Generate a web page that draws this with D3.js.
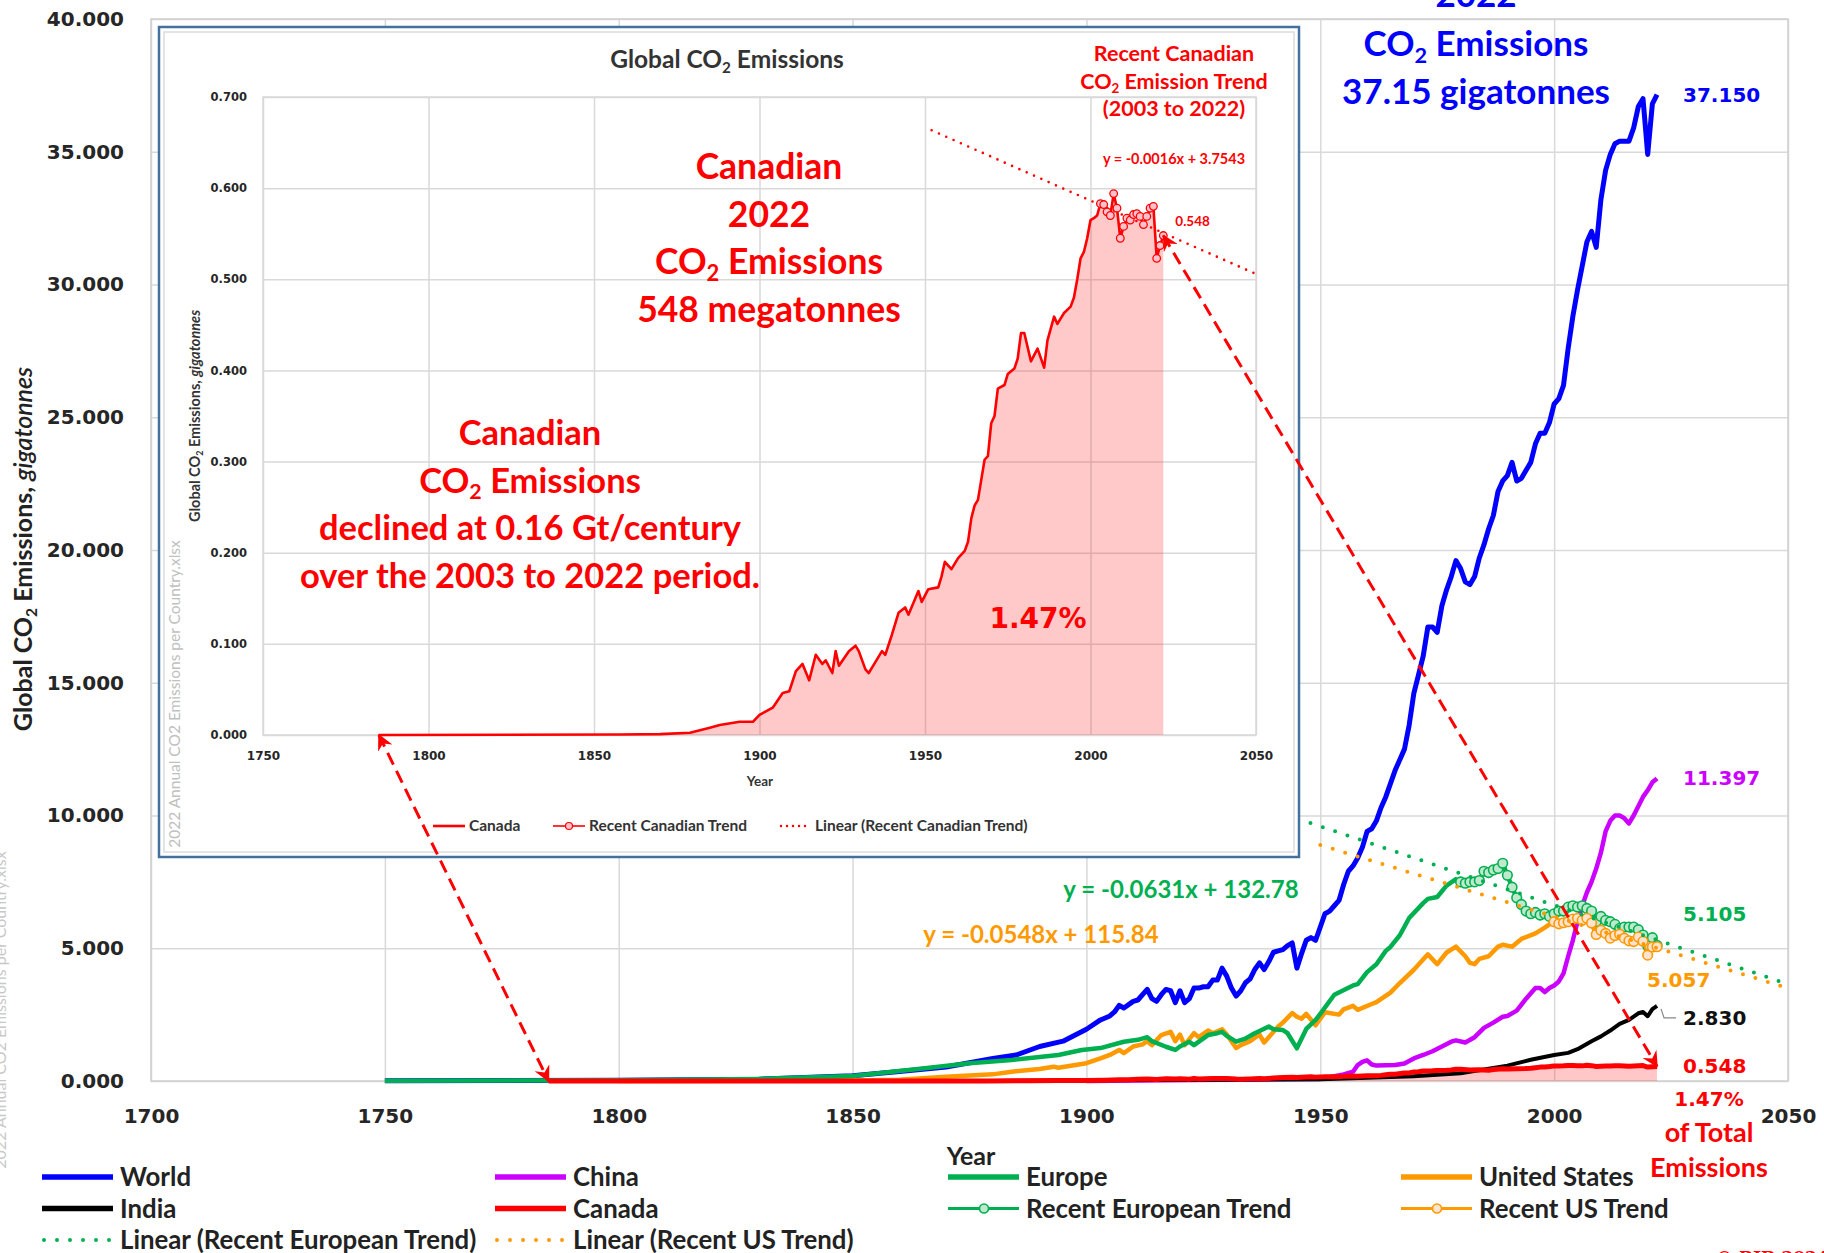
<!DOCTYPE html>
<html>
<head>
<meta charset="utf-8">
<title>Global CO2 Emissions</title>
<script src="https://d3js.org/d3.v7.min.js"></script>
<style>
  body { margin: 0; background: #fff; }
  .grid line { stroke: #d9d9d9; stroke-width: 1.5; }
  .grid .domain { display: none; }
  .grid text { font-family: "DejaVu Sans", sans-serif; font-weight: bold; fill: #262626; }
</style>
</head>
<body>
<script>
// ---------- data (gigatonnes of CO2 per year) ----------
var worldPts = [[1750,0.01],[1800,0.03],[1830,0.07],[1850,0.2],[1860,0.36],[1870,0.53],[1880,0.85],[1885,0.98],[1890,1.3],[1895,1.5],[1900,1.95],[1903,2.3],[1905,2.45],[1906,2.6],[1907,2.85],[1908,2.75],[1910,3.0],[1911,3.05],[1912,3.25],[1913,3.45],[1914,3.1],[1915,3.0],[1916,3.25],[1917,3.45],[1918,3.4],[1919,2.95],[1920,3.4],[1921,2.95],[1922,3.1],[1923,3.5],[1924,3.5],[1925,3.55],[1926,3.55],[1927,3.8],[1928,3.8],[1929,4.25],[1930,3.95],[1931,3.5],[1932,3.2],[1933,3.4],[1934,3.7],[1935,3.85],[1936,4.2],[1937,4.45],[1938,4.2],[1939,4.5],[1940,4.85],[1941,4.9],[1942,4.95],[1943,5.1],[1944,5.2],[1945,4.25],[1946,4.8],[1947,5.3],[1948,5.4],[1949,5.3],[1950,5.8],[1951,6.3],[1952,6.4],[1953,6.6],[1954,6.8],[1955,7.4],[1956,7.9],[1957,8.1],[1958,8.4],[1959,8.8],[1960,9.4],[1961,9.5],[1962,9.8],[1963,10.3],[1964,10.7],[1965,11.2],[1966,11.7],[1967,12.1],[1968,12.5],[1969,13.4],[1970,14.6],[1971,15.3],[1972,16.0],[1973,17.1],[1974,17.1],[1975,16.9],[1976,17.9],[1977,18.5],[1978,19.0],[1979,19.6],[1980,19.3],[1981,18.8],[1982,18.7],[1983,19.0],[1984,19.7],[1985,20.2],[1986,20.8],[1987,21.3],[1988,22.2],[1989,22.6],[1990,22.8],[1991,23.3],[1992,22.6],[1993,22.7],[1994,23.0],[1995,23.3],[1996,24.0],[1997,24.4],[1998,24.4],[1999,24.8],[2000,25.5],[2001,25.7],[2002,26.2],[2003,27.6],[2004,28.8],[2005,29.8],[2006,30.7],[2007,31.6],[2008,32.0],[2009,31.4],[2010,33.2],[2011,34.3],[2012,34.9],[2013,35.3],[2014,35.4],[2015,35.4],[2016,35.4],[2017,35.9],[2018,36.7],[2019,37.0],[2020,34.9],[2021,36.8],[2022,37.15]];

var chinaPts = [[1900,0.0],[1950,0.08],[1955,0.25],[1957,0.35],[1958,0.6],[1959,0.72],[1960,0.78],[1961,0.62],[1962,0.58],[1966,0.6],[1968,0.66],[1970,0.85],[1972,0.98],[1974,1.12],[1976,1.3],[1978,1.48],[1979,1.53],[1981,1.45],[1983,1.65],[1985,2.0],[1987,2.2],[1989,2.42],[1990,2.45],[1992,2.65],[1994,3.1],[1996,3.5],[1997,3.5],[1998,3.35],[1999,3.5],[2000,3.6],[2001,3.75],[2002,4.05],[2003,4.7],[2004,5.3],[2005,6.0],[2006,6.6],[2007,7.1],[2008,7.5],[2009,8.0],[2010,8.6],[2011,9.4],[2012,9.8],[2013,10.0],[2014,10.0],[2015,9.9],[2016,9.7],[2017,10.0],[2018,10.35],[2019,10.7],[2020,10.95],[2021,11.25],[2022,11.397]];

var indiaPts = [[1880,0.0],[1900,0.03],[1930,0.05],[1950,0.07],[1960,0.12],[1970,0.18],[1980,0.29],[1990,0.58],[1995,0.8],[2000,0.98],[2003,1.06],[2005,1.2],[2008,1.5],[2010,1.68],[2012,1.9],[2014,2.15],[2016,2.3],[2018,2.55],[2019,2.6],[2020,2.44],[2021,2.71],[2022,2.83]];

var europeEarly = [[1750,0.01],[1800,0.03],[1830,0.08],[1850,0.19],[1865,0.47],[1875,0.67],[1884,0.79],[1890,0.9],[1894,0.98],[1899,1.17],[1903,1.24],[1908,1.48],[1911,1.55],[1913,1.65],[1914,1.5],[1917,1.29],[1919,1.17],[1920,1.3],[1922,1.48],[1923,1.35],[1926,1.73],[1928,1.8],[1929,1.85],[1930,1.7],[1932,1.48],[1934,1.6],[1936,1.8],[1939,2.05],[1940,1.95],[1942,1.92],[1943,1.8],[1945,1.23],[1947,1.96],[1949,2.3],[1950,2.53],[1953,3.25],[1957,3.6],[1958,3.65],[1960,4.1],[1962,4.4],[1964,4.9],[1965,5.05],[1967,5.49],[1969,6.14],[1972,6.7],[1973,6.86],[1975,6.93],[1977,7.36],[1979,7.6]];
var europeRecent = [[1980,7.5],[1981,7.45],[1982,7.5],[1983,7.5],[1984,7.55],[1985,7.9],[1986,7.85],[1987,7.95],[1988,8.0],[1989,8.2],[1990,7.75],[1991,7.3],[1992,6.9],[1993,6.65],[1994,6.4],[1995,6.3],[1996,6.35],[1997,6.25],[1998,6.3],[1999,6.2],[2000,6.3],[2001,6.4],[2002,6.4],[2003,6.55],[2004,6.6],[2005,6.55],[2006,6.6],[2007,6.5],[2008,6.4],[2009,6.0],[2010,6.2],[2011,6.05],[2012,6.0],[2013,5.9],[2014,5.75],[2015,5.8],[2016,5.8],[2017,5.8],[2018,5.7],[2019,5.5],[2020,5.1],[2021,5.4],[2022,5.105]];

var usEarly = [[1800,0.0],[1850,0.02],[1860,0.05],[1870,0.16],[1880,0.25],[1884,0.35],[1890,0.45],[1893,0.54],[1894,0.5],[1900,0.67],[1903,0.85],[1905,0.98],[1907,1.17],[1908,1.05],[1910,1.3],[1912,1.38],[1913,1.5],[1914,1.35],[1916,1.73],[1918,1.85],[1919,1.5],[1920,1.75],[1921,1.35],[1923,1.8],[1924,1.65],[1926,1.9],[1927,1.8],[1929,1.95],[1930,1.75],[1932,1.24],[1933,1.35],[1935,1.5],[1937,1.75],[1938,1.45],[1940,1.85],[1941,2.05],[1942,2.2],[1944,2.56],[1945,2.42],[1946,2.35],[1947,2.53],[1949,2.1],[1951,2.59],[1954,2.5],[1955,2.7],[1957,2.83],[1958,2.68],[1961,2.9],[1962,2.97],[1965,3.33],[1967,3.69],[1970,4.19],[1973,4.77],[1975,4.4],[1977,4.84],[1979,5.06],[1981,4.7],[1982,4.45],[1983,4.4],[1984,4.6],[1986,4.7],[1988,5.06],[1989,5.13],[1991,5.06],[1993,5.35],[1996,5.56],[1998,5.78],[1999,5.9]];
var usRecent = [[2000,6.0],[2001,5.92],[2002,5.96],[2003,6.0],[2004,6.1],[2005,6.13],[2006,6.05],[2007,6.13],[2008,5.95],[2009,5.52],[2010,5.68],[2011,5.56],[2012,5.38],[2013,5.48],[2014,5.53],[2015,5.38],[2016,5.28],[2017,5.25],[2018,5.42],[2019,5.26],[2020,4.74],[2021,5.05],[2022,5.057]];

var canadaEarly = [[1785,0.0],[1858,0.0005],[1870,0.001],[1879,0.0025],[1885,0.008],[1888,0.011],[1894,0.0145],[1898,0.0145],[1900,0.022],[1904,0.03],[1907,0.046],[1909,0.048],[1911,0.07],[1913,0.078],[1915,0.06],[1917,0.088],[1919,0.078],[1920,0.082],[1922,0.068],[1923,0.092],[1924,0.076],[1927,0.092],[1929,0.098],[1930,0.092],[1932,0.072],[1933,0.068],[1935,0.08],[1937,0.092],[1938,0.088],[1940,0.11],[1942,0.134],[1944,0.14],[1945,0.132],[1948,0.158],[1949,0.146],[1951,0.16],[1954,0.162],[1955,0.174],[1956,0.19],[1958,0.182],[1960,0.194],[1962,0.202],[1963,0.212],[1964,0.238],[1965,0.252],[1966,0.258],[1968,0.302],[1969,0.306],[1970,0.342],[1971,0.35],[1972,0.38],[1974,0.384],[1975,0.396],[1977,0.402],[1978,0.413],[1979,0.441],[1980,0.441],[1982,0.41],[1984,0.424],[1986,0.403],[1987,0.433],[1989,0.459],[1990,0.451],[1992,0.463],[1994,0.47],[1995,0.48],[1996,0.5],[1997,0.523],[1998,0.53],[1999,0.545],[2000,0.565],[2001,0.567],[2002,0.57]];
var canadaRecent = [[2003,0.583],[2004,0.582],[2005,0.574],[2006,0.57],[2007,0.594],[2008,0.578],[2009,0.545],[2010,0.558],[2011,0.567],[2012,0.565],[2013,0.571],[2014,0.572],[2015,0.569],[2016,0.56],[2017,0.569],[2018,0.578],[2019,0.58],[2020,0.523],[2021,0.537],[2022,0.548]];

// years over which the linear trend lines are drawn
var euroTrendSpan = [1940, 2050];
var usTrendSpan = [1950, 2050];
var canTrendSpan = [1952, 2050];

var xTicks = [1700, 1750, 1800, 1850, 1900, 1950, 2000, 2050];
var yTicks = [0, 5, 10, 15, 20, 25, 30, 35, 40];
var insetXTicks = [1750, 1800, 1850, 1900, 1950, 2000, 2050];
var insetYTicks = [0, 0.1, 0.2, 0.3, 0.4, 0.5, 0.6, 0.7];

var legendNames = ["World", "China", "Europe", "United States", "India", "Canada",
  "Recent European Trend", "Recent US Trend", "Linear (Recent European Trend)", "Linear (Recent US Trend)"];
var legendKinds = ["line", "line", "line", "line", "line", "line", "marker", "marker", "dots", "dots"];

// ---------- colours ----------
var BLUE = "#0000ff", PURPLE = "#cc00ff", GREEN = "#00b050", ORANGE = "#ff9900", RED = "#ff0000", BLACK = "#000000";
var legendColors = [BLUE, PURPLE, GREEN, ORANGE, BLACK, RED, GREEN, ORANGE, GREEN, ORANGE];
var COND = "Lato, 'Liberation Sans', sans-serif";
var WIDE = "'DejaVu Sans', Verdana, sans-serif";

var europePts = europeEarly.concat(europeRecent);
var usPts = usEarly.concat(usRecent);
var canadaPts = canadaEarly.concat(canadaRecent);

function linFit(pts) {
  var mx = d3.mean(pts, function(d) { return d[0]; });
  var my = d3.mean(pts, function(d) { return d[1]; });
  var sxy = d3.sum(pts, function(d) { return (d[0] - mx) * (d[1] - my); });
  var sxx = d3.sum(pts, function(d) { return (d[0] - mx) * (d[0] - mx); });
  var m = sxy / sxx;
  return function(yr) { return my + m * (yr - mx); };
}
function trendPts(pts, span) {
  var f = linFit(pts);
  return span.map(function(yr) { return [yr, f(yr)]; });
}

// text with "_2" marking a subscript 2
function label(parent, xx, yy, str, size, color, opts) {
  opts = opts || {};
  var t = parent.append("text").attr("x", xx).attr("y", yy)
    .attr("font-size", size).attr("fill", color)
    .attr("text-anchor", opts.anchor || "middle")
    .attr("font-family", opts.family || COND)
    .attr("font-weight", opts.weight || 700);
  if (opts.transform) t.attr("transform", opts.transform);
  str.split("_2").forEach(function(p, i) {
    if (i > 0) {
      t.append("tspan").attr("font-size", size * 0.62).attr("dy", size * 0.2).text("2");
      t.append("tspan").attr("dy", -size * 0.2).text(p);
    } else if (p) {
      t.append("tspan").text(p);
    }
  });
  return t;
}
function block(parent, xx, y0, lines, gap, size, color) {
  lines.forEach(function(s, i) { label(parent, xx, y0 + i * gap, s, size, color); });
}

var W = 1824, H = 1253;
var svg = d3.select("body").append("svg").attr("width", W).attr("height", H)
  .style("background", "#fff").style("display", "block");

var defs = svg.append("defs");
defs.append("marker").attr("id", "arrow").attr("viewBox", "0 0 12 12")
  .attr("refX", 11).attr("refY", 6).attr("markerWidth", 16).attr("markerHeight", 16)
  .attr("markerUnits", "userSpaceOnUse").attr("orient", "auto-start-reverse")
  .append("path").attr("d", "M0,0 L12,6 L0,12 L4,6 Z").attr("fill", RED);

// ---------- main chart ----------
var x = d3.scaleLinear().domain([1700, 2050]).range([151, 1788]);
var y = d3.scaleLinear().domain([0, 40]).range([1081, 19]);
var line = d3.line().x(function(d) { return x(d[0]); }).y(function(d) { return y(d[1]); });

svg.append("g").attr("class", "grid").attr("transform", "translate(151,0)")
  .call(d3.axisLeft(y).tickValues(yTicks).tickSize(-(1788 - 151)).tickPadding(27).tickFormat(d3.format(".3f")))
  .selectAll("text").style("font-size", "20px");
svg.append("g").attr("class", "grid").attr("transform", "translate(0,1081)")
  .call(d3.axisBottom(x).tickValues(xTicks).tickSize(-(1081 - 19)).tickPadding(28).tickFormat(d3.format("d")))
  .selectAll("text").style("font-size", "20px");
svg.append("rect").attr("x", 151).attr("y", 19).attr("width", 1788 - 151).attr("height", 1081 - 19)
  .attr("fill", "none").attr("stroke", "#d0d0d0").attr("stroke-width", 1.5);

svg.append("path").datum(canadaPts)
  .attr("d", d3.area().x(function(d) { return x(d[0]); }).y0(y(0)).y1(function(d) { return y(d[1]); }))
  .attr("fill", RED).attr("fill-opacity", 0.22);

function drawLine(pts, color, w) {
  svg.append("path").datum(pts).attr("d", line).attr("fill", "none")
    .attr("stroke", color).attr("stroke-width", w).attr("stroke-linejoin", "round");
}
drawLine(worldPts, BLUE, 5);
drawLine(usPts, ORANGE, 4.5);
drawLine(europePts, GREEN, 4.5);
drawLine(chinaPts, PURPLE, 4.5);
drawLine(indiaPts, BLACK, 4);
drawLine(canadaPts, RED, 5);

function drawDots(pts, color) {
  svg.append("path").datum(pts).attr("d", line).attr("fill", "none")
    .attr("stroke", color).attr("stroke-width", 4).attr("stroke-linecap", "round")
    .attr("stroke-dasharray", "0 13");
}
function drawMarkers(pts, color, fill) {
  svg.append("path").datum(pts).attr("d", line).attr("fill", "none")
    .attr("stroke", color).attr("stroke-width", 2);
  svg.append("g").selectAll("circle").data(pts).join("circle")
    .attr("cx", function(d) { return x(d[0]); }).attr("cy", function(d) { return y(d[1]); })
    .attr("r", 4.8).attr("fill", fill).attr("stroke", color).attr("stroke-width", 1.6);
}
drawMarkers(europeRecent, GREEN, "#bfe8cc");
drawMarkers(usRecent, ORANGE, "#fde3d0");
drawDots(trendPts(europeRecent, euroTrendSpan), GREEN);
drawDots(trendPts(usRecent, usTrendSpan), ORANGE);

// end-of-series value labels
var last = function(a) { return a[a.length - 1]; };
var x22 = x(2022);
label(svg, x22 + 26, y(last(worldPts)[1]) + 7, "37.150", 20, BLUE, {anchor: "start", family: WIDE});
label(svg, x22 + 26, y(last(chinaPts)[1]) + 7, "11.397", 20, PURPLE, {anchor: "start", family: WIDE});
label(svg, x22 + 26, y(last(europeRecent)[1]) - 24, "5.105", 20, GREEN, {anchor: "start", family: WIDE});
label(svg, x22 - 10, y(last(usRecent)[1]) + 40, "5.057", 20, ORANGE, {anchor: "start", family: WIDE});
label(svg, x22 + 26, y(last(indiaPts)[1]) + 19, "2.830", 20, "#111", {anchor: "start", family: WIDE});
label(svg, x22 + 26, y(last(canadaPts)[1]) + 7, "0.548", 20, RED, {anchor: "start", family: WIDE});
svg.append("path")
  .attr("d", "M" + (x22 + 4) + "," + (y(2.83) + 3) + " L" + (x22 + 7) + "," + (y(2.83) + 12) + " L" + (x22 + 19) + "," + (y(2.83) + 12))
  .attr("fill", "none").attr("stroke", "#888").attr("stroke-width", 1.2);
label(svg, 1709, 1106, "1.47%", 20, RED, {family: WIDE});
label(svg, 1709, 1142, "of Total", 27, RED);
label(svg, 1709, 1177, "Emissions", 27, RED);

label(svg, 1181, 898, "y = -0.0631x + 132.78", 24, GREEN);
label(svg, 1041, 943, "y = -0.0548x + 115.84", 24, ORANGE);

block(svg, 1476, 7, ["2022", "CO_2 Emissions", "37.15 gigatonnes"], 48.5, 35, BLUE);

label(svg, 971, 1165, "Year", 25, "#222");
var yt = label(svg, 0, 0, "Global CO_2 Emissions, ", 25, "#222", {transform: "translate(32,549) rotate(-90)"});
yt.append("tspan").attr("font-style", "italic").attr("font-weight", 600).text("gigatonnes");
label(svg, 0, 0, "2022 Annual CO2 Emissions per Country.xlsx", 16, "#c8c8c8",
  {weight: 400, transform: "translate(6,1010) rotate(-90)"});

// legend
legendNames.forEach(function(name, i) {
  var col = i % 4, row = Math.floor(i / 4);
  var lx = 42 + col * 453, ly = 1177 + row * 31.5;
  var c = legendColors[i], k = legendKinds[i];
  var g = svg.append("g");
  if (k === "dots") {
    g.append("line").attr("x1", lx + 2).attr("x2", lx + 71).attr("y1", ly).attr("y2", ly)
      .attr("stroke", c).attr("stroke-width", 4).attr("stroke-linecap", "round").attr("stroke-dasharray", "0 13");
  } else {
    g.append("line").attr("x1", lx).attr("x2", lx + 71).attr("y1", ly).attr("y2", ly)
      .attr("stroke", c).attr("stroke-width", k === "marker" ? 3 : 5.5);
    if (k === "marker") {
      g.append("circle").attr("cx", lx + 36).attr("cy", ly).attr("r", 4.5)
        .attr("fill", c === GREEN ? "#bfe8cc" : "#fde3d0").attr("stroke", c).attr("stroke-width", 1.6);
    }
  }
  label(g, lx + 78, ly + 9, name, 25.8, "#222", {anchor: "start"});
});
label(svg, 1716, 1263, "\u00a9 RJB 2024", 17, RED, {anchor: "start", family: "'DejaVu Serif', serif"});

// ---------- inset: Canada ----------
var inset = svg.append("g");
inset.append("rect").attr("x", 159).attr("y", 27).attr("width", 1140).attr("height", 830)
  .attr("fill", "#fff").attr("stroke", "#41719c").attr("stroke-width", 2.5);
inset.append("rect").attr("x", 164).attr("y", 32).attr("width", 1130).attr("height", 820)
  .attr("fill", "none").attr("stroke", "#dcdcdc").attr("stroke-width", 1.5);

var xi = d3.scaleLinear().domain([1750, 2050]).range([263, 1256]);
var yi = d3.scaleLinear().domain([0, 0.7]).range([735, 97]);
var lineI = d3.line().x(function(d) { return xi(d[0]); }).y(function(d) { return yi(d[1]); });

inset.append("g").attr("class", "grid").attr("transform", "translate(263,0)")
  .call(d3.axisLeft(yi).tickValues(insetYTicks).tickSize(-(1256 - 263)).tickPadding(16).tickFormat(d3.format(".3f")))
  .selectAll("text").style("font-size", "11.5px");
inset.append("g").attr("class", "grid").attr("transform", "translate(0,735)")
  .call(d3.axisBottom(xi).tickValues(insetXTicks).tickSize(-(735 - 97)).tickPadding(16).tickFormat(d3.format("d")))
  .selectAll("text").style("font-size", "12px");
inset.append("rect").attr("x", 263).attr("y", 97).attr("width", 1256 - 263).attr("height", 735 - 97)
  .attr("fill", "none").attr("stroke", "#d9d9d9").attr("stroke-width", 1.5);

inset.append("path").datum(canadaPts)
  .attr("d", d3.area().x(function(d) { return xi(d[0]); }).y0(yi(0)).y1(function(d) { return yi(d[1]); }))
  .attr("fill", RED).attr("fill-opacity", 0.21);
inset.append("path").datum(canadaPts).attr("d", lineI).attr("fill", "none")
  .attr("stroke", RED).attr("stroke-width", 2.6).attr("stroke-linejoin", "round");
inset.append("path").datum(trendPts(canadaRecent, canTrendSpan)).attr("d", lineI).attr("fill", "none")
  .attr("stroke", RED).attr("stroke-width", 2.6).attr("stroke-linecap", "round").attr("stroke-dasharray", "0 8");
inset.append("g").selectAll("circle").data(canadaRecent).join("circle")
  .attr("cx", function(d) { return xi(d[0]); }).attr("cy", function(d) { return yi(d[1]); })
  .attr("r", 3.8).attr("fill", "#ffc2cc").attr("stroke", RED).attr("stroke-width", 1.3);

label(inset, 727, 68, "Global CO_2 Emissions", 24.5, "#333");
label(inset, 760, 786, "Year", 13.5, "#333");
label(inset, 0, 0, "Global CO_2 Emissions, ", 14.5, "#333", {transform: "translate(200,416) rotate(-90)"})
  .append("tspan").attr("font-style", "italic").text("gigatonnes");
label(inset, 0, 0, "2022 Annual CO2 Emissions per Country.xlsx", 15.5, "#c0c0c0",
  {weight: 400, transform: "translate(180,694) rotate(-90)"});

block(inset, 1174, 61, ["Recent Canadian", "CO_2 Emission Trend", "(2003 to 2022)"], 27.5, 21.5, RED);
label(inset, 1174, 164, "y = -0.0016x + 3.7543", 14.5, RED);
label(inset, xi(2022) + 12, yi(last(canadaRecent)[1]) - 10, "0.548", 13.5, RED, {anchor: "start"});
block(inset, 769, 179, ["Canadian", "2022", "CO_2 Emissions", "548 megatonnes"], 47.5, 35.5, RED);
block(inset, 530, 445, ["Canadian", "CO_2 Emissions", "declined at 0.16 Gt/century", "over the 2003 to 2022 period."], 47.5, 34.5, RED);
label(inset, 1038, 628, "1.47%", 28, RED, {family: WIDE});

// inset legend
var il = [["Canada", "line", 433], ["Recent Canadian Trend", "marker", 553], ["Linear (Recent Canadian Trend)", "dots", 779]];
il.forEach(function(d) {
  var lx = d[2], ly = 826;
  if (d[1] === "dots") {
    inset.append("line").attr("x1", lx + 2).attr("x2", lx + 32).attr("y1", ly).attr("y2", ly)
      .attr("stroke", RED).attr("stroke-width", 2.5).attr("stroke-linecap", "round").attr("stroke-dasharray", "0 6");
  } else {
    inset.append("line").attr("x1", lx).attr("x2", lx + 32).attr("y1", ly).attr("y2", ly)
      .attr("stroke", RED).attr("stroke-width", d[1] === "marker" ? 1.6 : 2.6);
    if (d[1] === "marker") inset.append("circle").attr("cx", lx + 16).attr("cy", ly).attr("r", 3.5)
      .attr("fill", "#ffc2cc").attr("stroke", RED).attr("stroke-width", 1.2);
  }
  label(inset, lx + 36, ly + 5, d[0], 15.5, "#333", {anchor: "start"});
});

// ---------- connecting arrows (inset point -> main chart point) ----------
function arrow(p) {
  svg.append("line")
    .attr("x1", xi(p[0])).attr("y1", yi(p[1])).attr("x2", x(p[0])).attr("y2", y(p[1]))
    .attr("stroke", RED).attr("stroke-width", 3).attr("stroke-dasharray", "13 7")
    .attr("marker-start", "url(#arrow)").attr("marker-end", "url(#arrow)");
}
arrow(last(canadaRecent));
arrow(canadaEarly[0]);
</script>
</body>
</html>
